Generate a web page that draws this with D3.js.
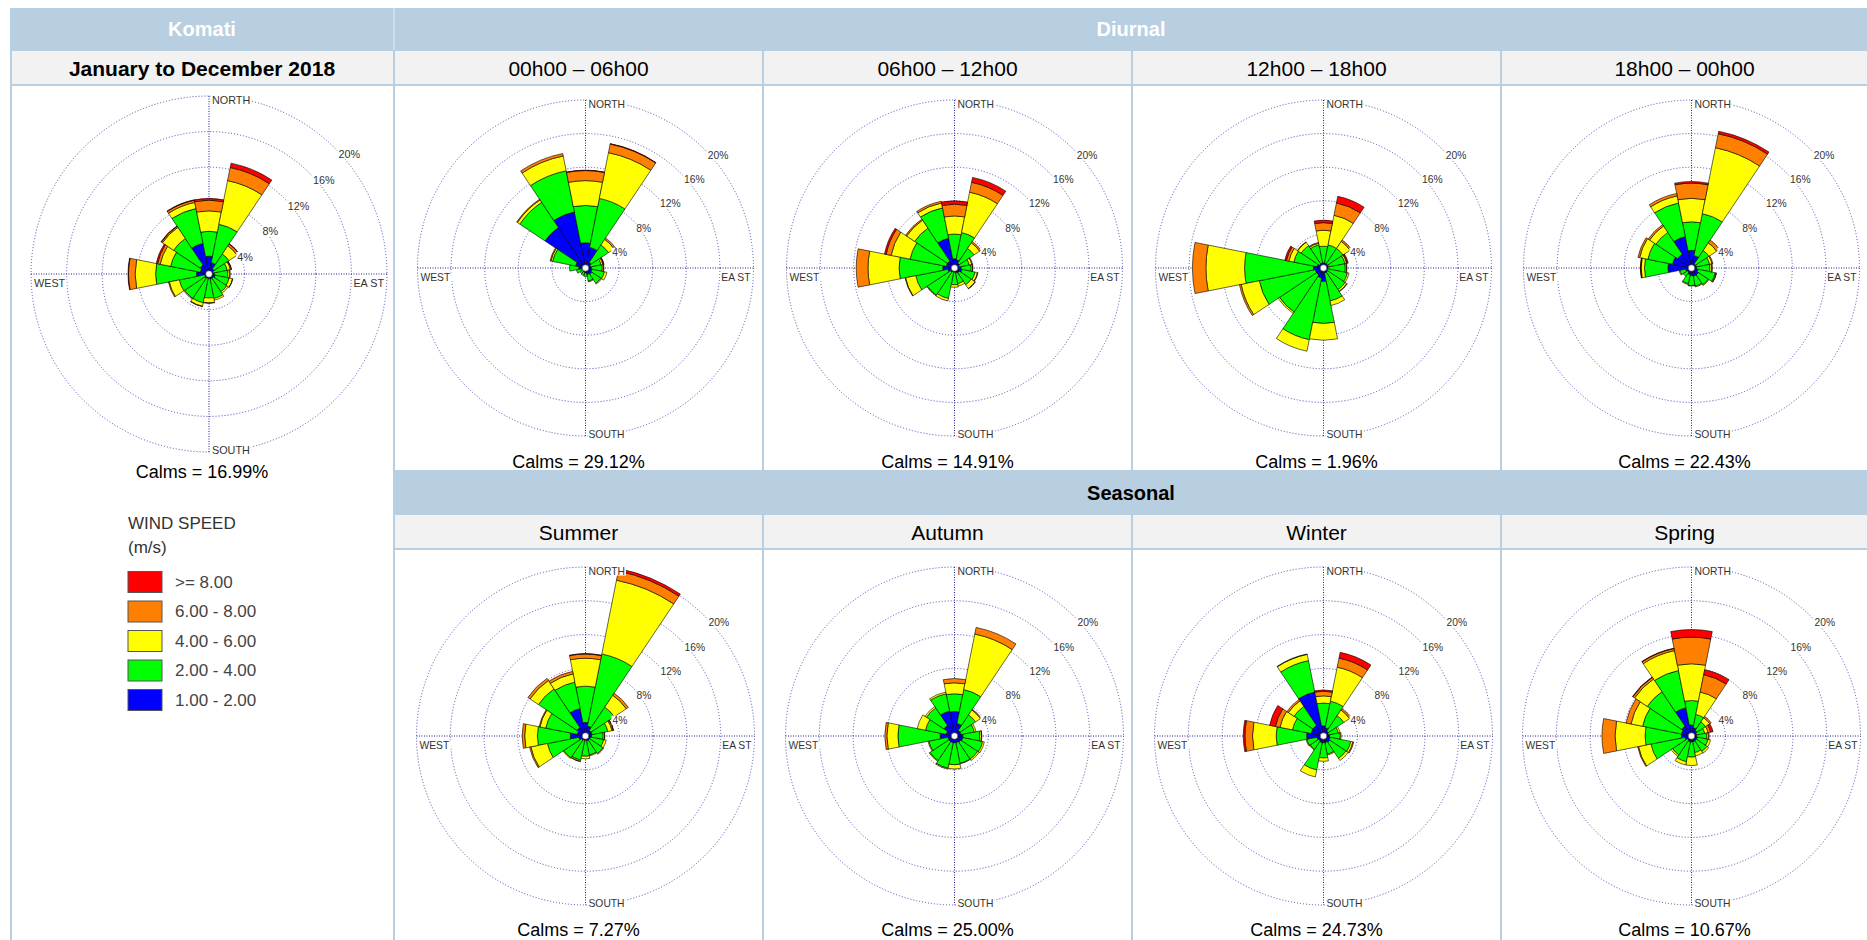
<!DOCTYPE html>
<html>
<head>
<meta charset="utf-8">
<script src="https://cdn.jsdelivr.net/npm/d3@7"></script>
<style>
  body { margin: 0; background: #fff; }
  svg { display: block; font-family: "Liberation Sans", Arial, sans-serif; }
</style>
</head>
<body>
<div id="chart"></div>
<script>
// ---- data ----
const directions = ['N','NNE','NE','ENE','E','ESE','SE','SSE','S','SSW','SW','WSW','W','WNW','NW','NNW'];
const speedClasses = ['1.00 - 2.00', '2.00 - 4.00', '4.00 - 6.00', '6.00 - 8.00', '>= 8.00'];
const speedColors = ['#0000ff', '#00ff00', '#ffff00', '#ff8000', '#ff0000'];
const ringTicks = [4, 8, 12, 16, 20];
const ringLabels = ['4%', '8%', '12%', '16%', '20%'];
const compassLabels = ['NORTH', 'EA ST', 'SOUTH', 'WEST'];

// frequency (%) per direction, per speed class [1-2, 2-4, 4-6, 6-8, >=8]
const annual2018 = [
  [2.0, 2.8, 2.3, 1.2, 0.2], [1.3, 4.4, 5.0, 1.5, 0.5], [0.7, 2.0, 1.1, 0.25, 0.05], [0.5, 1.6, 0.35, 0.1, 0.05],
  [0.6, 1.5, 0.2, 0.1, 0], [0.7, 1.6, 0.4, 0.03, 0], [0.6, 1.8, 0.2, 0, 0], [0.6, 2.2, 0.2, 0, 0],
  [0.5, 2.2, 0.55, 0.05, 0], [0.5, 2.8, 0.4, 0.05, 0], [0.6, 2.7, 0.1, 0, 0], [0.5, 2.9, 1.15, 0.1, 0],
  [1.4, 4.6, 2.3, 0.75, 0.05], [1.0, 3.4, 1.2, 0.3, 0.15], [1.2, 3.6, 1.5, 0.15, 0.05], [3.5, 4.0, 0.7, 0.25, 0.05]
];
const hours0006 = [
  [3.0, 4.45, 2.95, 1.2, 0.05], [2.5, 5.95, 5.55, 1.05, 0.05], [0.8, 2.5, 0.8, 0.2, 0], [0.6, 1.3, 0.2, 0.1, 0.05],
  [0.7, 1.3, 0.15, 0.05, 0], [0.8, 1.5, 0.3, 0, 0], [0.9, 1.3, 0.1, 0, 0], [0.8, 0.8, 0.1, 0, 0],
  [0.6, 0.4, 0, 0, 0], [0.5, 0.4, 0, 0, 0], [0.4, 0.4, 0, 0, 0], [0.5, 0.6, 0, 0, 0],
  [0.8, 1.1, 0, 0, 0], [1.2, 2.8, 0.2, 0.1, 0], [5.8, 3.6, 0.35, 0.1, 0], [6.8, 5.0, 1.8, 0.3, 0]
];
const hours0612 = [
  [1.1, 2.95, 2.15, 1.4, 0.4], [1.0, 3.3, 4.9, 1.2, 0.6], [0.7, 2.1, 0.8, 0.2, 0], [0.6, 1.2, 0.3, 0.1, 0],
  [0.8, 1.2, 0.15, 0.05, 0], [0.9, 1.6, 0.3, 0.05, 0], [0.7, 1.7, 0.55, 0.05, 0], [0.6, 1.3, 0.3, 0, 0],
  [0.5, 1.5, 0.3, 0, 0], [0.5, 3.2, 0.3, 0, 0], [0.6, 3.3, 0.05, 0, 0], [0.8, 3.9, 1.25, 0.05, 0],
  [1.4, 5.2, 3.7, 1.4, 0], [1.0, 4.4, 2.3, 0.6, 0.2], [1.0, 4.7, 1.15, 0.15, 0], [3.6, 3.7, 0.6, 0.2, 0]
];
const hours1218 = [
  [0.6, 2.0, 1.9, 0.9, 0.3], [0.6, 2.2, 3.6, 1.5, 0.8], [0.6, 2.2, 1.0, 0.2, 0], [0.6, 2.0, 0.2, 0.1, 0.1],
  [0.5, 2.1, 0.15, 0.05, 0], [0.5, 2.4, 0.2, 0, 0], [0.6, 2.5, 0.25, 0.05, 0], [0.6, 3.4, 0.55, 0, 0],
  [1.6, 5.0, 2.0, 0, 0], [1.2, 7.5, 1.4, 0, 0], [1.0, 5.3, 0.2, 0, 0], [1.0, 6.8, 2.2, 0.2, 0],
  [1.2, 8.2, 4.6, 1.6, 0], [0.8, 2.8, 0.6, 0.3, 0.2], [0.6, 2.6, 0.5, 0.05, 0], [0.6, 2.2, 0.2, 0.1, 0]
];
const hours1800 = [
  [2.1, 3.4, 2.8, 1.8, 0.2], [1.5, 5.1, 8.0, 1.7, 0.3], [0.6, 1.9, 1.1, 0.4, 0], [0.6, 1.6, 0.3, 0.1, 0],
  [0.6, 1.6, 0.2, 0.1, 0], [0.8, 2.1, 0.1, 0.05, 0], [1.0, 1.4, 0.1, 0, 0], [1.0, 1.2, 0.1, 0, 0],
  [0.9, 1.2, 0.05, 0, 0], [0.8, 1.1, 0.1, 0, 0], [0.6, 0.6, 0, 0, 0], [0.7, 0.7, 0.1, 0, 0],
  [2.8, 2.8, 0.4, 0.05, 0.05], [2.3, 3.0, 1.0, 0.2, 0], [2.0, 3.1, 0.9, 0.2, 0], [3.8, 4.1, 0.85, 0.3, 0]
];
const summer = [
  [1.6, 4.3, 3.3, 0.5, 0.05], [1.2, 8.7, 8.9, 1.1, 0.3], [0.8, 3.3, 1.7, 0.3, 0], [0.8, 1.9, 0.5, 0.15, 0.05],
  [0.7, 1.4, 0.15, 0.05, 0], [0.6, 1.6, 0.3, 0, 0], [0.6, 1.9, 0.1, 0, 0], [0.6, 1.7, 0.1, 0, 0],
  [0.5, 1.9, 0.3, 0, 0], [0.5, 2.4, 0.15, 0.05, 0], [0.6, 2.5, 0.1, 0, 0], [0.8, 3.8, 2.0, 0.15, 0],
  [1.8, 3.9, 1.5, 0.3, 0], [1.0, 3.8, 0.7, 0.1, 0], [1.2, 5.5, 1.2, 0.3, 0], [3.3, 3.2, 1.0, 0.3, 0]
];
const autumn = [
  [2.9, 2.1, 1.3, 0.5, 0], [1.5, 4.1, 6.7, 0.8, 0], [0.8, 2.2, 0.7, 0.1, 0], [0.8, 1.6, 0.2, 0, 0],
  [1.0, 2.0, 0.2, 0.05, 0], [1.0, 2.4, 0.2, 0, 0], [0.9, 2.4, 0.2, 0, 0], [0.8, 2.5, 0.05, 0, 0],
  [0.8, 2.6, 0.5, 0, 0], [0.8, 3.1, 0.1, 0, 0], [0.8, 2.7, 0.1, 0, 0], [0.8, 2.3, 0.1, 0, 0],
  [1.7, 5.0, 1.3, 0.25, 0], [1.0, 2.5, 1.0, 0, 0], [1.5, 2.5, 0.2, 0, 0], [3.0, 2.1, 0.2, 0, 0]
];
const winter = [
  [1.2, 2.7, 0.85, 0.55, 0.15], [1.0, 3.2, 4.1, 1.1, 0.7], [0.7, 2.2, 0.8, 0.2, 0], [0.6, 1.2, 0.2, 0, 0],
  [0.7, 1.3, 0.1, 0, 0], [0.8, 2.5, 0.25, 0.1, 0], [0.9, 2.3, 0.3, 0, 0], [0.8, 1.4, 0.1, 0, 0],
  [0.8, 1.8, 0.4, 0, 0], [0.8, 3.3, 0.85, 0, 0], [0.7, 1.2, 0.1, 0, 0], [0.8, 1.2, 0.1, 0, 0],
  [2.0, 3.6, 2.8, 0.9, 0.2], [1.5, 2.25, 1.5, 0.55, 0.7], [1.5, 2.7, 0.8, 0.2, 0], [5.3, 3.8, 0.75, 0.05, 0]
];
const spring = [
  [1.3, 2.9, 4.35, 3.15, 0.9], [1.0, 1.6, 2.7, 2.1, 0.6], [0.8, 1.2, 0.6, 0.2, 0], [0.6, 1.0, 0.4, 0.3, 0.3],
  [0.6, 1.2, 0.2, 0.1, 0], [0.7, 1.3, 0.3, 0, 0], [0.7, 1.5, 0.25, 0, 0], [0.7, 1.3, 0.4, 0, 0],
  [0.7, 1.8, 1.0, 0, 0], [0.7, 2.4, 0.4, 0, 0], [0.6, 2.1, 0.2, 0, 0], [0.8, 4.1, 1.5, 0.1, 0],
  [1.2, 4.3, 3.55, 1.55, 0], [1.2, 4.7, 1.4, 0.6, 0], [1.4, 4.9, 1.8, 0.25, 0.05], [3.4, 4.5, 2.4, 0.25, 0.05]
];

const diurnalTitles = ['00h00 \u2013 06h00', '06h00 \u2013 12h00', '12h00 \u2013 18h00', '18h00 \u2013 00h00'];
const seasonTitles = ['Summer', 'Autumn', 'Winter', 'Spring'];
const diurnalData = [hours0006, hours0612, hours1218, hours1800];
const seasonData = [summer, autumn, winter, spring];
const annualCalm = 16.99;
const diurnalCalms = [29.12, 14.91, 1.96, 22.43];
const seasonCalms = [7.27, 25.00, 24.73, 10.67];

// ---- layout ----
const width = 1867, height = 940;
const headerBlue = '#b8cfe2';
const subGrey = '#f2f2f2';
const colEdges = [10, 394, 763, 1132, 1501, 1868];

const svg = d3.select('#chart').append('svg')
    .attr('width', width)
    .attr('height', height);

// table background acts as the light blue grid lines
svg.append('rect')
    .attr('x', colEdges[0]).attr('y', 8)
    .attr('width', width - colEdges[0]).attr('height', height - 8)
    .attr('fill', headerBlue);

// divider between the two top bands
svg.append('line')
    .attr('x1', 394).attr('x2', 394).attr('y1', 8).attr('y2', 50)
    .attr('stroke', '#d4e2ee').attr('stroke-width', 1.5);

function cell(x0, x1, y0, y1, fill) {
    svg.append('rect')
        .attr('x', x0).attr('y', y0)
        .attr('width', x1 - x0).attr('height', y1 - y0)
        .attr('fill', fill);
}

function label(x, y, txt, size, weight, color) {
    return svg.append('text')
        .attr('x', x).attr('y', y)
        .attr('text-anchor', 'middle')
        .attr('dominant-baseline', 'central')
        .style('font-size', size + 'px')
        .style('font-weight', weight)
        .style('fill', color)
        .text(txt);
}

// left column
cell(12, 393, 51, 84, subGrey);
cell(12, 393, 86, height, '#fff');
label(202, 29, 'Komati', 20, 'bold', '#fff');
label(202, 68, 'January to December 2018', 21, 'bold', '#000');

// diurnal and seasonal columns
label((395 + width) / 2, 29, 'Diurnal', 20, 'bold', '#fff');
label((395 + width) / 2, 493, 'Seasonal', 20, 'bold', '#000');
for (let c = 0; c < 4; c++) {
    const x0 = colEdges[c + 1] + 1, x1 = colEdges[c + 2] - 1;
    cell(x0, x1, 51, 84, subGrey);
    cell(x0, x1, 86, 470, '#fff');
    cell(x0, x1, 515, 548, subGrey);
    cell(x0, x1, 550, height, '#fff');
    label((x0 + x1) / 2, 68, diurnalTitles[c], 21, 'normal', '#000');
    label((x0 + x1) / 2, 532, seasonTitles[c], 21, 'normal', '#000');
}

// ---- wind rose ----
function textWithBg(g, x, y, txt, size, anchor) {
    const t = g.append('text')
        .attr('x', x).attr('y', y)
        .attr('text-anchor', anchor)
        .attr('dominant-baseline', 'central')
        .style('font-size', size + 'px')
        .style('fill', '#333')
        .text(txt);
    const bb = t.node().getBBox();
    g.insert('rect', () => t.node())
        .attr('x', bb.x - 1).attr('y', bb.y + 1)
        .attr('width', bb.width + 2).attr('height', bb.height - 2)
        .attr('fill', '#fff');
}

function windRose(cx, cy, R, data, calm, calmY, fontSize) {
    const g = svg.append('g').attr('transform', `translate(${cx},${cy})`);
    const rScale = d3.scaleLinear().domain([0, 20]).range([0, R]);
    const angle = d3.scaleBand()
        .domain(directions)
        .range([-Math.PI / 16, 2 * Math.PI - Math.PI / 16]);

    // dotted rings and axes
    ringTicks.forEach(t => {
        g.append('circle')
            .attr('r', rScale(t))
            .attr('fill', 'none')
            .attr('stroke', '#4a4ab4')
            .attr('stroke-width', 1)
            .attr('stroke-dasharray', '1,2');
    });
    g.append('line')
        .attr('x1', -R).attr('x2', R).attr('y1', 0).attr('y2', 0)
        .attr('stroke', '#1c1c90').attr('stroke-dasharray', '1,1.5');
    g.append('line')
        .attr('x1', 0).attr('x2', 0).attr('y1', -R).attr('y2', R)
        .attr('stroke', '#1c1c90').attr('stroke-dasharray', '1,1.5');

    // stacked wedges
    const stacked = d3.stack().keys(d3.range(speedClasses.length))(data);
    const arc = d3.arc();
    stacked.forEach((layer, k) => {
        layer.forEach((seg, i) => {
            if (seg[1] - seg[0] <= 0) return;
            const a0 = angle(directions[i]);
            g.append('path')
                .attr('d', arc({
                    innerRadius: rScale(seg[0]),
                    outerRadius: rScale(seg[1]),
                    startAngle: a0,
                    endAngle: a0 + angle.bandwidth()
                }))
                .attr('fill', speedColors[k])
                .attr('stroke', '#000')
                .attr('stroke-width', 0.6);
        });
    });

    g.append('circle')
        .attr('r', 3.3)
        .attr('fill', '#fff')
        .attr('stroke', '#333')
        .attr('stroke-width', 0.6);

    // ring labels
    ringTicks.forEach((t, i) => {
        const rr = rScale(t);
        textWithBg(g, 0.71 * rr + 3, -0.72 * rr + 8.5, ringLabels[i], fontSize, 'start');
    });

    // compass labels
    textWithBg(g, 3, -R + 4, compassLabels[0], fontSize, 'start');
    textWithBg(g, R - 3, 9, compassLabels[1], fontSize, 'end');
    textWithBg(g, 3, R - 2, compassLabels[2], fontSize, 'start');
    textWithBg(g, -R + 3, 9, compassLabels[3], fontSize, 'start');

    label(cx - 7, calmY, `Calms = ${calm.toFixed(2)}%`, 18, 'normal', '#000');
}

windRose(209, 274, 178, annual2018, annualCalm, 472, 10.8);
for (let c = 0; c < 4; c++) {
    const mid = (colEdges[c + 1] + colEdges[c + 2]) / 2;
    windRose(mid + 7, 268, 168, diurnalData[c], diurnalCalms[c], 462, 10.3);
    windRose(mid + 7, 736, 169, seasonData[c], seasonCalms[c], 930, 10.3);
}

// ---- legend ----
const legend = svg.append('g').attr('transform', 'translate(128,0)');
legend.append('text')
    .attr('x', 0).attr('y', 523)
    .attr('dominant-baseline', 'central')
    .style('font-size', '17px').style('fill', '#333')
    .text('WIND SPEED');
legend.append('text')
    .attr('x', 0).attr('y', 547)
    .attr('dominant-baseline', 'central')
    .style('font-size', '17px').style('fill', '#333')
    .text('(m/s)');

const legendY = d3.scalePoint()
    .domain(d3.range(speedClasses.length).reverse())
    .range([582, 700]);
d3.range(speedClasses.length).forEach(k => {
    legend.append('rect')
        .attr('x', 0).attr('y', legendY(k) - 10.5)
        .attr('width', 34).attr('height', 21)
        .attr('fill', speedColors[k])
        .attr('stroke', '#555')
        .attr('stroke-width', 1);
    legend.append('text')
        .attr('x', 47).attr('y', legendY(k))
        .attr('dominant-baseline', 'central')
        .style('font-size', '17px').style('fill', '#444')
        .text(speedClasses[k]);
});
</script>
</body>
</html>
